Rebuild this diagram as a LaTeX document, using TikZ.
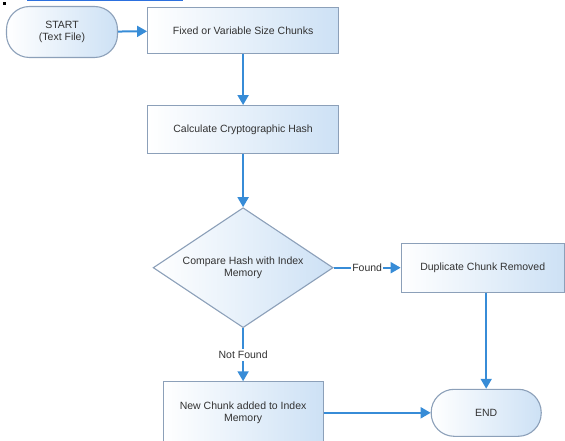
\documentclass[tikz,border=0pt]{standalone}
\usepackage{fontspec}
\setmainfont{Liberation Sans}
\usetikzlibrary{shapes,arrows.meta,positioning}
\definecolor{edgegrey}{RGB}{140,160,185}
\definecolor{flowblue}{RGB}{55,140,215}
\definecolor{fillblue}{RGB}{205,225,245}
\definecolor{inkgrey}{RGB}{50,50,50}

\begin{document}
\begin{tikzpicture}[x=1pt,y=-1pt,
    every node/.style={text=inkgrey, font=\fontsize{10.5}{12.5}\selectfont},
    proc/.style={rectangle, draw=edgegrey, line width=1.1pt, left color=white, right color=fillblue, text centered, inner sep=2pt},
    term/.style={rectangle, rounded corners=23pt, draw=edgegrey, line width=1.1pt, left color=white, right color=fillblue, text centered},
    decide/.style={diamond, aspect=1.5, draw=edgegrey, line width=1.1pt, left color=white, right color=fillblue, text centered, inner sep=0pt},
    flow/.style={-{Triangle[length=10pt,width=11pt]}, line width=2pt, flowblue}
]
\useasboundingbox (0,0) rectangle (565,441);

% Top strip
\node (dot) [fill=black, minimum width=3pt, minimum height=3pt, inner sep=0pt] at (4,4) {};
\draw[flowblue!80!blue, line width=1pt] (27,0.5) -- (183,0.5);

% Flow nodes
\node (start) [term, minimum width=111pt, minimum height=51pt, align=center] at (62,32) {START\\(Text File)};
\node (chunks) [proc, minimum width=191pt, minimum height=46pt, right=29pt of start, yshift=1.5pt] {Fixed or Variable Size Chunks};
\node (hash) [proc, minimum width=191pt, minimum height=48pt, below=51pt of chunks] {Calculate Cryptographic Hash};
\node (compare) [decide, minimum width=180pt, minimum height=120pt, below=53pt of hash, align=center] {Compare Hash with Index\\Memory};
\node (dup) [proc, minimum width=163pt, minimum height=49pt, right=67pt of compare] {Duplicate Chunk Removed};
\node (newchunk) [proc, minimum width=160pt, minimum height=62pt, below=53pt of compare, align=center] {New Chunk added to Index\\Memory};
\node (end) [term, minimum width=110pt, minimum height=47pt, right=107pt of newchunk] {END};

% Connectors
\draw[flow] (start) -- (chunks);
\draw[flow] (chunks) -- (hash);
\draw[flow] (hash) -- (compare);
\draw[flow] (compare) -- node[fill=white, inner sep=1pt] (foundlbl) {Found} (dup);
\draw[flow] (compare) -- node[fill=white, inner sep=2pt] (notfoundlbl) {Not Found} (newchunk);
\draw[flow] (dup.south -| end) -- (end);
\draw[flow] (newchunk) -- (end);

\end{tikzpicture}
\end{document}
